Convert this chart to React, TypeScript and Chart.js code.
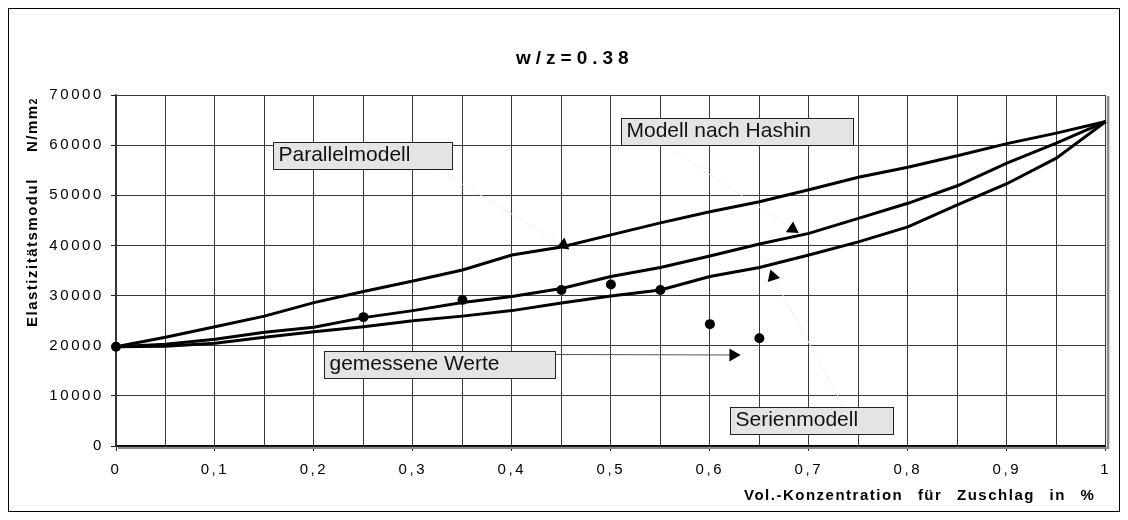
import React, { useEffect, useRef } from 'react';
import { Chart, registerables } from 'chart.js';

Chart.register(...registerables);

// ---- data ----
const concentration = [0, 0.05, 0.1, 0.15, 0.2, 0.25, 0.3, 0.35, 0.4, 0.45, 0.5, 0.55, 0.6, 0.65, 0.7, 0.75, 0.8, 0.85, 0.9, 0.95, 1];
const parallelModel = [19800, 21700, 23800, 25900, 28600, 30800, 32900, 35100, 38100, 39700, 42100, 44500, 46700, 48700, 51100, 53600, 55600, 57900, 60300, 62400, 64700];
const hashinModel = [19800, 20300, 21300, 22700, 23700, 25600, 27000, 28600, 29800, 31400, 33800, 35600, 37900, 40300, 42400, 45400, 48400, 51900, 56400, 60400, 64700];
const serialModel = [19800, 19900, 20500, 21700, 22800, 23800, 25000, 25900, 27000, 28500, 29900, 31100, 33800, 35600, 38100, 40700, 43700, 48100, 52300, 57400, 64700];

const measuredX = [0, 0.25, 0.35, 0.45, 0.5, 0.55, 0.6, 0.65];
const measuredE = [19800, 25700, 29100, 31100, 32200, 31100, 24300, 21500];

// annotation labels (text boxes) in data units
const labelTexts = ['Parallelmodell', 'Modell nach Hashin', 'gemessene Werte', 'Serienmodell'];
const labelLeftX = [0.1587, 0.5106, 0.21, 0.6202];
const labelRightX = [0.3391, 0.7443, 0.4436, 0.7845];
const labelTopE = [60570, 65360, 19010, 7840];

// pointer arrows from the boxes to the curves (heads are triangles)
const pointerStartX = [0.3243, 0.5542, 0.4436, 0.7352];
const pointerStartE = [55250, 60030, 18250, 7840];
const pointerHeadX = [0.452, 0.6835, 0.6235, 0.6635];
const pointerHeadE = [40100, 43300, 18150, 33800];
const pointerHeadAngle = [8, 4, 90, 102];
const pointerFaint = [true, true, false, true];

const xTickStep = 0.05;
const yTickStep = 10000;
const yMax = 70000;

const chartTitle = 'w/z=0.38';
const yAxisTitleMain = 'Elastizitätsmodul';
const yAxisTitleUnit = 'N/mm';
const yAxisTitleUnitSmall = '2';
const xAxisTitle = 'Vol.-Konzentration für Zuschlag in %';

const FONT = "'Liberation Sans', Arial, Helvetica, sans-serif";

const overlayPlugin = {
  id: 'overlay',
  beforeDraw(chart: any) {
    chart.ctx.letterSpacing = '2.6px';
  },
  beforeDatasetsDraw(chart: any) {
    const { ctx, chartArea: a, scales } = chart;
    const x = scales.x;
    const y = scales.y;
    ctx.save();
    ctx.letterSpacing = '0px';
    // plot area shadow
    ctx.fillStyle = '#8a8a8a';
    ctx.fillRect(a.right + 1, a.top + 1, 2.5, a.bottom - a.top + 2);
    ctx.fillRect(a.left + 2, a.bottom + 1, a.right - a.left + 1, 2);

    // pointer shafts
    for (let i = 0; i < pointerStartX.length; i++) {
      ctx.beginPath();
      ctx.strokeStyle = pointerFaint[i] ? '#f3f3f3' : '#555';
      ctx.lineWidth = 1;
      ctx.moveTo(x.getPixelForValue(pointerStartX[i]), y.getPixelForValue(pointerStartE[i]));
      ctx.lineTo(x.getPixelForValue(pointerHeadX[i]), y.getPixelForValue(pointerHeadE[i]));
      ctx.stroke();
    }

    // label boxes
    for (let i = 0; i < labelTexts.length; i++) {
      const l = Math.round(x.getPixelForValue(labelLeftX[i])) + 0.5;
      const r = Math.round(x.getPixelForValue(labelRightX[i])) + 0.5;
      const t = Math.round(y.getPixelForValue(labelTopE[i])) + 0.5;
      const h = 27;
      ctx.fillStyle = '#e4e4e4';
      ctx.fillRect(l, t, r - l, h);
      ctx.strokeStyle = '#222';
      ctx.lineWidth = 1;
      ctx.strokeRect(l, t, r - l, h);
      ctx.fillStyle = '#111';
      ctx.font = `21px ${FONT}`;
      ctx.textAlign = 'left';
      ctx.textBaseline = 'alphabetic';
      ctx.fillText(labelTexts[i], l + 5, t + 18);
    }
    ctx.restore();
  },
  afterDraw(chart: any) {
    const { ctx, width, height } = chart;
    ctx.save();
    ctx.fillStyle = '#000';
    ctx.textBaseline = 'alphabetic';
    ctx.textAlign = 'left';

    // title
    ctx.font = `bold 19px ${FONT}`;
    ctx.letterSpacing = '5px';
    ctx.fillText(chartTitle, 508, 56);

    // x axis title
    ctx.font = `bold 15px ${FONT}`;
    ctx.letterSpacing = '1.5px';
    (ctx as any).wordSpacing = '9px';
    ctx.fillText(xAxisTitle, 736, 492);
    (ctx as any).wordSpacing = '0px';

    // y axis title
    ctx.save();
    ctx.translate(29, 319);
    ctx.rotate(-Math.PI / 2);
    ctx.font = `bold 15px ${FONT}`;
    ctx.letterSpacing = '1.5px';
    ctx.fillText(yAxisTitleMain, 0, 0);
    ctx.fillText(yAxisTitleUnit, 175, 0);
    const wUnit = ctx.measureText(yAxisTitleUnit).width;
    ctx.font = `bold 10px ${FONT}`;
    ctx.fillText(yAxisTitleUnitSmall, 175 + wUnit, 0);
    ctx.restore();

    // outer frame
    ctx.strokeStyle = '#000';
    ctx.lineWidth = 1;
    ctx.strokeRect(0.5, 0.5, width - 1, height - 1);
    ctx.restore();
  },
};

const isMajor = (v: number) => Math.round(v / xTickStep) % 2 === 0;

export default function App() {
  const canvasRef = useRef<HTMLCanvasElement | null>(null);

  useEffect(() => {
    const canvas = canvasRef.current;
    if (!canvas) return;
    const line = (vals: number[]) => concentration.map((c, i) => ({ x: c, y: vals[i] }));
    const chart = new Chart(canvas, {
      type: 'line',
      data: {
        datasets: [
          { label: 'Parallelmodell', data: line(parallelModel), borderColor: '#000', borderWidth: 3, pointRadius: 0, tension: 0, clip: false } as any,
          { label: 'Modell nach Hashin', data: line(hashinModel), borderColor: '#000', borderWidth: 3, pointRadius: 0, tension: 0, clip: false } as any,
          { label: 'Serienmodell', data: line(serialModel), borderColor: '#000', borderWidth: 3, pointRadius: 0, tension: 0, clip: false } as any,
          {
            label: 'gemessene Werte',
            type: 'scatter',
            data: measuredX.map((c, i) => ({ x: c, y: measuredE[i] })),
            pointStyle: 'circle',
            pointRadius: 5,
            backgroundColor: '#000',
            borderColor: '#000',
            borderWidth: 0,
            showLine: false,
            clip: false,
          } as any,
          {
            label: 'Pfeile',
            type: 'scatter',
            data: pointerHeadX.map((c, i) => ({ x: c, y: pointerHeadE[i] })),
            pointStyle: 'triangle',
            pointRadius: 7.5,
            pointRotation: pointerHeadAngle,
            backgroundColor: '#000',
            borderColor: '#000',
            borderWidth: 0,
            showLine: false,
            clip: false,
          } as any,
        ],
      },
      options: {
        responsive: false,
        animation: false,
        events: [],
        layout: { padding: { top: 87, right: 10, bottom: 0, left: 0 } },
        plugins: { legend: { display: false }, tooltip: { enabled: false }, title: { display: false } },
        scales: {
          x: {
            type: 'linear',
            min: 0,
            max: 1,
            afterFit: (s: any) => { s.height = 66; },
            ticks: {
              stepSize: xTickStep,
              autoSkip: false,
              maxRotation: 0,
              padding: 10,
              color: '#000',
              font: { family: FONT, size: 15 },
              callback: (v: any) => (isMajor(Number(v)) ? String(Math.round(Number(v) * 10) / 10).replace('.', ',') : ''),
            },
            grid: {
              color: '#3a3a3a',
              lineWidth: 1,
              tickLength: 5,
              tickColor: (c: any) => (c.tick && isMajor(c.tick.value) ? '#222' : 'rgba(0,0,0,0)'),
            },
            border: { color: '#000', width: 1.5 },
          },
          y: {
            type: 'linear',
            min: 0,
            max: yMax,
            afterFit: (s: any) => { s.width = 108; },
            ticks: {
              stepSize: yTickStep,
              padding: 7,
              color: '#000',
              font: { family: FONT, size: 15 },
              callback: (v: any) => String(v),
            },
            grid: { color: '#3a3a3a', lineWidth: 1, tickLength: 5, tickColor: '#222' },
            border: { color: '#333', width: 1.5 },
          },
        },
      },
      plugins: [overlayPlugin],
    } as any);
    return () => chart.destroy();
  }, []);

  return (
    <div style={{ width: 1112, height: 504 }}>
      <canvas ref={canvasRef} width={1112} height={504} style={{ display: 'block' }} />
    </div>
  );
}
